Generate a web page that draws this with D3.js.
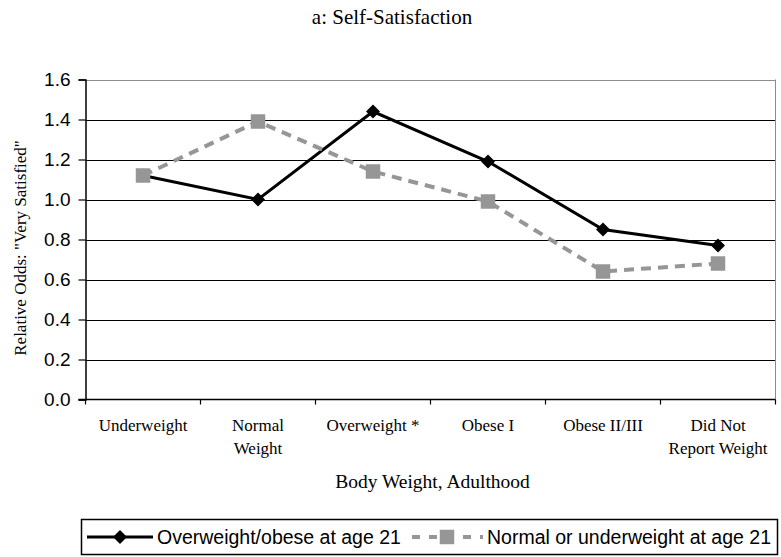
<!DOCTYPE html>
<html>
<head>
<meta charset="utf-8">
<script src="https://cdn.jsdelivr.net/npm/d3@7"></script>
<style>
  body { margin: 0; background: #fff; }
  svg { display: block; }
  .serif { font-family: "Liberation Serif", "Times New Roman", serif; fill: #000; }
  .sans { font-family: "Liberation Sans", Arial, sans-serif; fill: #000; }
</style>
</head>
<body>
<svg width="781" height="557"></svg>
<script>
var categories = [["Underweight"], ["Normal", "Weight"], ["Overweight *"], ["Obese I"], ["Obese II/III"], ["Did Not", "Report Weight"]];
var overweightAt21 = [1.12, 1.00, 1.44, 1.19, 0.85, 0.77];
var normalAt21 = [1.12, 1.39, 1.14, 0.99, 0.64, 0.68];
var yTicks = [0, 0.2, 0.4, 0.6, 0.8, 1.0, 1.2, 1.4, 1.6];

var svg = d3.select("svg"),
    width = +svg.attr("width"),
    height = +svg.attr("height"),
    margin = { top: 79.5, bottom: 157.5, left: 85.5, right: 5.5 };

var x = d3.scaleBand()
  .domain(d3.range(categories.length))
  .range([margin.left, width - margin.right]);

var y = d3.scaleLinear()
  .domain([0, 1.6])
  .range([height - margin.bottom, margin.top]);

// Title
svg.append("text")
  .attr("class", "serif")
  .attr("x", 392)
  .attr("y", 24)
  .attr("text-anchor", "middle")
  .style("font-size", "21px")
  .text("a: Self-Satisfaction");

// gridlines
svg.append("g")
  .selectAll("line")
  .data(yTicks.filter(function (d) { return d > 0; }))
  .enter().append("line")
    .attr("x1", margin.left)
    .attr("x2", width - margin.right)
    .attr("y1", function (d) { return Math.round(y(d)) + 0.5; })
    .attr("y2", function (d) { return Math.round(y(d)) + 0.5; })
    .attr("stroke", function (d) { return d === 1.6 ? "#8c8c8c" : "#000"; })
    .attr("stroke-width", 1.2);

// right border of plot
svg.append("line")
  .attr("x1", width - margin.right).attr("x2", width - margin.right)
  .attr("y1", y(1.6)).attr("y2", y(0))
  .attr("stroke", "#8c8c8c");

// y axis
var yAxis = svg.append("g")
  .attr("transform", "translate(" + margin.left + ",0)")
  .call(d3.axisLeft(y).tickValues(yTicks).tickFormat(d3.format(".1f")).tickSize(7).tickPadding(8));
yAxis.select(".domain").attr("stroke-width", 1.5);
yAxis.selectAll(".tick line").attr("stroke-width", 1.2);
yAxis.selectAll("text")
  .attr("class", "sans")
  .style("font-size", "19px");

// x axis (ticks on category boundaries)
var xAxisG = svg.append("g")
  .attr("transform", "translate(0," + y(0) + ")");
xAxisG.append("line")
  .attr("x1", margin.left - 7).attr("x2", width - margin.right)
  .attr("stroke", "#000").attr("stroke-width", 1.5);
xAxisG.selectAll(".tk")
  .data(d3.range(categories.length + 1))
  .enter().append("line")
    .attr("x1", function (i) { return i < categories.length ? x(i) : x(i - 1) + x.bandwidth(); })
    .attr("x2", function (i) { return i < categories.length ? x(i) : x(i - 1) + x.bandwidth(); })
    .attr("y1", 0).attr("y2", 5)
    .attr("stroke", "#000").attr("stroke-width", 1.2);

var catLabels = xAxisG.selectAll(".cat")
  .data(categories)
  .enter().append("text")
    .attr("class", "serif")
    .attr("text-anchor", "middle")
    .style("font-size", "17px")
    .attr("transform", function (d, i) { return "translate(" + (x(i) + x.bandwidth() / 2) + ",0)"; });
catLabels.selectAll("tspan")
  .data(function (d) { return d; })
  .enter().append("tspan")
    .attr("x", 0)
    .attr("y", function (d, i) { return 31 + i * 23; })
    .text(function (d) { return d; });

// axis titles
svg.append("text")
  .attr("class", "serif")
  .attr("x", (margin.left + width - margin.right) / 2 + 2)
  .attr("y", 488)
  .attr("text-anchor", "middle")
  .style("font-size", "19.5px")
  .text("Body Weight, Adulthood");

svg.append("text")
  .attr("class", "serif")
  .attr("transform", "translate(26,248)rotate(-90)")
  .attr("text-anchor", "middle")
  .style("font-size", "17px")
  .text("Relative Odds: \"Very Satisfied\"");

var cx = function (d, i) { return x(i) + x.bandwidth() / 2; };
var line = d3.line().x(cx).y(function (d) { return y(d); });

var diamond = d3.symbol().type(d3.symbolDiamond2).size(125);
var square = d3.symbol().type(d3.symbolSquare).size(210);

// series 1: overweight/obese at 21
svg.append("path")
  .datum(overweightAt21)
  .attr("d", line)
  .attr("fill", "none")
  .attr("stroke", "#000")
  .attr("stroke-width", 3);
svg.append("g").selectAll("path")
  .data(overweightAt21)
  .enter().append("path")
    .attr("d", diamond)
    .attr("transform", function (d, i) { return "translate(" + cx(d, i) + "," + y(d) + ")"; })
    .attr("fill", "#000");

// series 2: normal/underweight at 21
svg.append("path")
  .datum(normalAt21)
  .attr("d", line)
  .attr("fill", "none")
  .attr("stroke", "#969696")
  .attr("stroke-width", 4)
  .attr("stroke-dasharray", "10,7");
svg.append("g").selectAll("path")
  .data(normalAt21)
  .enter().append("path")
    .attr("d", square)
    .attr("transform", function (d, i) { return "translate(" + cx(d, i) + "," + y(d) + ")"; })
    .attr("fill", "#969696");

// Legend
var legend = svg.append("g").attr("class", "legend");
legend.append("rect")
  .attr("x", 81.5).attr("y", 519.5)
  .attr("width", 696).attr("height", 35)
  .attr("fill", "#fff")
  .attr("stroke", "#000")
  .attr("stroke-width", 1.5);

var ly = 537;
legend.append("line")
  .attr("x1", 87).attr("x2", 153).attr("y1", ly).attr("y2", ly)
  .attr("stroke", "#000").attr("stroke-width", 3);
legend.append("path")
  .attr("d", diamond)
  .attr("transform", "translate(120," + ly + ")")
  .attr("fill", "#000");
legend.append("text")
  .attr("class", "sans")
  .attr("x", 157).attr("y", ly + 7)
  .style("font-size", "19.5px")
  .text("Overweight/obese at age 21");

legend.append("line")
  .attr("x1", 412).attr("x2", 483).attr("y1", ly).attr("y2", ly)
  .attr("stroke", "#969696").attr("stroke-width", 4)
  .attr("stroke-dasharray", "8,9");
legend.append("path")
  .attr("d", square)
  .attr("transform", "translate(447," + ly + ")")
  .attr("fill", "#969696");
legend.append("text")
  .attr("class", "sans")
  .attr("x", 487).attr("y", ly + 7)
  .style("font-size", "19.5px")
  .text("Normal or underweight at age 21");
</script>
</body>
</html>
